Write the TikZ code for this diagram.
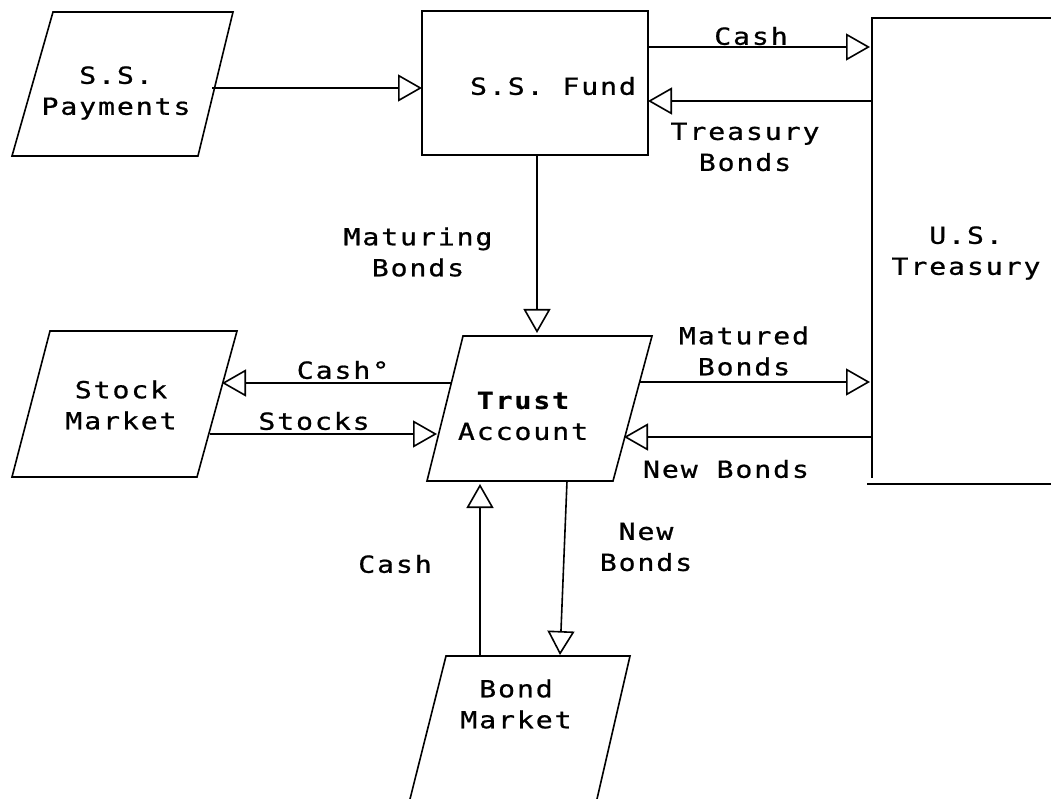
\documentclass[tikz,border=0pt]{standalone}
\usepackage{fontspec}
\usetikzlibrary{arrows.meta}
\newfontfamily\tw{DejaVu Sans Mono}[FakeStretch=1.2,LetterSpace=8,FakeBold=0.8]
\tikzset{
  lbl/.style={font=\tw\fontsize{23.5}{31}\selectfont, align=center, inner sep=0pt},
  conn/.style={line width=1.6pt, -{Triangle[open,length=24pt,width=27pt,line width=1.6pt]}},
  outline/.style={line width=1.6pt, line join=miter}
}
\begin{document}
\begin{tikzpicture}[x=1pt,y=-1pt]
\useasboundingbox (0,0) rectangle (1051,799);
\fill[white] (0,0) rectangle (1051,799);

% ---- shapes ----
% S.S. Payments (parallelogram)
\draw[outline] (53,12) -- (233,12) -- (198,156) -- (12,156) -- cycle;
\node[lbl] (pay) at (116,93) {S.S.\\Payments};
% S.S. Fund (rectangle)
\draw[outline] (422,11) rectangle (648,155);
\node[lbl] (fund) at (553,86) {S.S. Fund};
% U.S. Treasury (open box)
\draw[outline] (1051,18) -- (872,18) -- (872,478);
\draw[outline] (867,484) -- (1051,484);
\node[lbl] (treas) at (966,253) {U.S.\\Treasury};
% Stock Market
\draw[outline] (50,331) -- (237,331) -- (197,477) -- (12,477) -- cycle;
\node[lbl] (stock) at (121,405) {Stock\\Market};
% Trust Account
\draw[outline] (463,336) -- (652,336) -- (613,481) -- (427,481) -- cycle;
\node[lbl] (trust) at (523,416) {\bfseries Trust\\Account};
% Bond Market (cut by the bottom edge)
\draw[outline] (410,799) -- (446,656) -- (630,656) -- (597,799);
\node[lbl] (bond) at (516,704) {Bond\\Market};

% ---- connector end points ----
\coordinate (pay-e) at (212,88);
\coordinate (fund-w) at (422,88);
\coordinate (fund-e1) at (648,47);
\coordinate (treas-w1) at (870,47);
\coordinate (treas-w2) at (872,101);
\coordinate (fund-e2) at (648,101);
\coordinate (fund-s) at (537,155);
\coordinate (trust-n) at (537,333);
\coordinate (trust-w1) at (451,383);
\coordinate (stock-e1) at (222,383);
\coordinate (stock-e2) at (210,434);
\coordinate (trust-w2) at (437,434);
\coordinate (trust-e1) at (640,382);
\coordinate (treas-w3) at (870,382);
\coordinate (treas-w4) at (872,437);
\coordinate (trust-e2) at (624,437);
\coordinate (bond-n1) at (480,656);
\coordinate (trust-s1) at (480,484);
\coordinate (trust-s2) at (567,481);
\coordinate (bond-n2) at (560,655);

% ---- connectors ----
\draw[conn] (pay-e) -- (fund-w);
\draw[conn] (fund-e1) -- (treas-w1);
\draw[conn] (treas-w2) -- (fund-e2);
\draw[conn] (fund-s) -- (trust-n);
\draw[conn] (trust-w1) -- (stock-e1);
\draw[conn] (stock-e2) -- (trust-w2);
\draw[conn] (trust-e1) -- (treas-w3);
\draw[conn] (treas-w4) -- (trust-e2);
\draw[conn] (bond-n1) -- (trust-s1);
\draw[conn] (trust-s2) -- (bond-n2);

% ---- connector labels ----
\node[lbl] (l-cash1) at (751,36) {Cash};
\node[lbl] (l-tb) at (745,147) {Treasury\\Bonds};
\node[lbl] (l-mat) at (418,252) {Maturing\\Bonds};
\node[lbl] (l-cash2) at (343,370) {Cash°};
\node[lbl] (l-stocks) at (314,421) {Stocks};
\node[lbl] (l-matd) at (744,351) {Matured\\Bonds};
\node[lbl] (l-nb1) at (726,469) {New Bonds};
\node[lbl] (l-cash3) at (395,564) {Cash};
\node[lbl] (l-nb2) at (646,547) {New\\Bonds};
\end{tikzpicture}
\end{document}
